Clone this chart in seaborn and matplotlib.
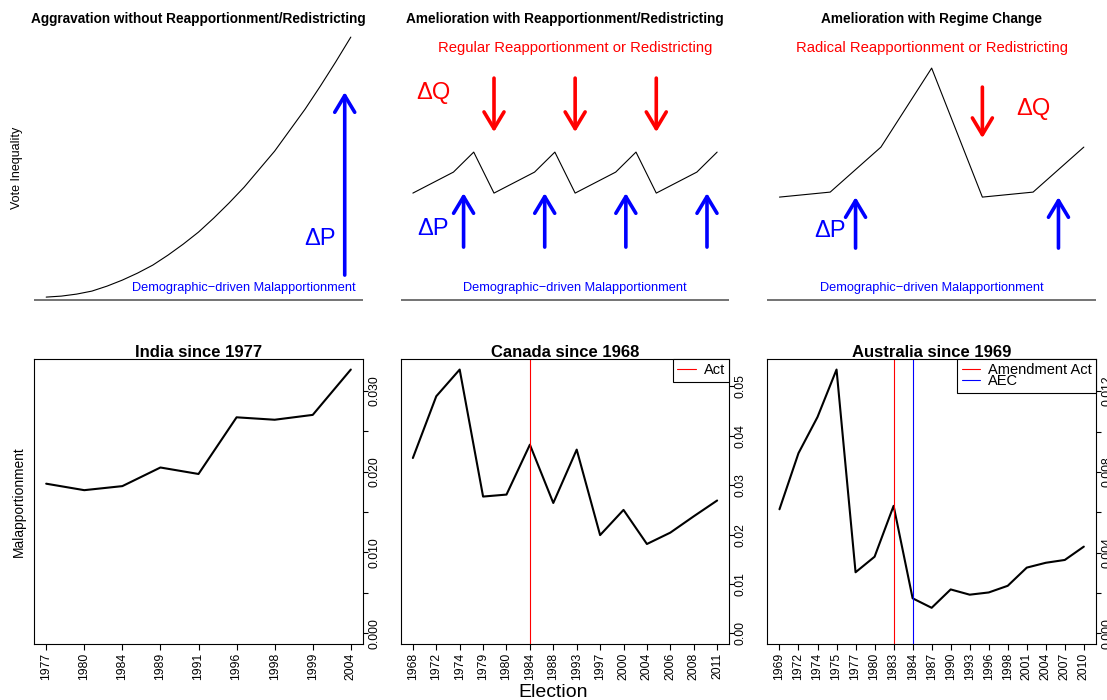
import numpy as np
import matplotlib
matplotlib.use("Agg")
import matplotlib.pyplot as plt
from matplotlib.patches import ArrowStyle
from matplotlib.ticker import MultipleLocator, FuncFormatter
import seaborn as sns

sns.set_style("white")
plt.rcParams["font.family"] = ["Liberation Sans", "DejaVu Sans"]
plt.rcParams.update({
    "text.color": "black",
    "axes.labelcolor": "black",
    "xtick.color": "black",
    "ytick.color": "black",
    "axes.edgecolor": "black",
})

# ---------------- conceptual panels (arbitrary units) ----------------
aggr_x = [0, 0.5, 1, 1.5, 2, 2.5, 3, 3.5, 4, 4.5, 5, 5.5, 6, 6.5, 7, 7.5, 8, 8.5, 9, 9.5, 10]
aggr_y = [1.0, 1.1, 1.3, 1.6, 2.1, 2.7, 3.4, 4.2, 5.2, 6.3, 7.5, 8.9, 10.4, 12.0,
          13.8, 15.6, 17.7, 19.8, 22.1, 24.5, 27.0]
aggr_p_x = [9.8]
aggr_p_span = (3.2, 21.5)

regular_x = [0, 2, 3, 4, 6, 7, 8, 10, 11, 12, 14, 15]
regular_y = [11.4, 13.5, 15.5, 11.4, 13.5, 15.5, 11.4, 13.5, 15.5, 11.4, 13.5, 15.5]
regular_q_x = [4, 8, 12]
regular_q_span = (22.9, 17.5)
regular_p_x = [2.5, 6.5, 10.5, 14.5]
regular_p_span = (6.0, 11.4)

regime_x = [0, 1, 2, 3, 4, 5, 6]
regime_y = [11.0, 11.5, 16.0, 23.9, 11.0, 11.5, 16.0]
regime_q_x = [4]
regime_q_span = (22.0, 16.9)
regime_p_x = [1.5, 5.5]
regime_p_span = (5.9, 11.0)

# ---------------- observed malapportionment ----------------
india_years = ["1977", "1980", "1984", "1989", "1991", "1996", "1998", "1999", "2004"]
india_vals = [0.0185, 0.0177, 0.0182, 0.0205, 0.0197, 0.0267, 0.0264, 0.0270, 0.0326]

canada_years = ["1968", "1972", "1974", "1979", "1980", "1984", "1988", "1993",
                "1997", "2000", "2004", "2006", "2008", "2011"]
canada_vals = [0.0355, 0.0480, 0.0534, 0.0277, 0.0281, 0.0382, 0.0264, 0.0372,
               0.0199, 0.0250, 0.0181, 0.0204, 0.0237, 0.0269]
canada_events = [("1984", "Act", "#ff0000")]

australia_years = ["1969", "1972", "1974", "1975", "1977", "1980", "1983", "1984",
                   "1987", "1990", "1993", "1996", "1998", "2001", "2004", "2007", "2010"]
australia_vals = [0.00615, 0.00893, 0.01072, 0.01307, 0.00303, 0.00380, 0.00632, 0.00174,
                  0.00127, 0.00218, 0.00192, 0.00203, 0.00236, 0.00326, 0.00350, 0.00364, 0.00430]
australia_events = [("1983", "Amendment Act", "#ff0000"), ("1984", "AEC", "#0000ff")]

RED = "#ff0000"
BLUE = "#0000ff"

W, H = 1107, 700
fig = plt.figure(figsize=(W / 100, H / 100), dpi=100)

col_left = [34, 400.7, 767.3]
col_width = [329, 328.6, 328.7]


def add_ax(px_left, px_width, px_top, px_bottom):
    return fig.add_axes([px_left / W, (H - px_bottom) / H,
                         px_width / W, (px_bottom - px_top) / H])


def pad_lim(lo, hi, frac=0.04):
    d = (hi - lo) * frac
    return lo - d, hi + d


def arrows(ax, xs, span, color):
    style = ArrowStyle("->", head_length=0.6, head_width=0.36)
    for x in xs:
        ax.annotate("", xy=(x, span[1]), xytext=(x, span[0]),
                    arrowprops=dict(arrowstyle=style, mutation_scale=20, lw=2.6,
                                    color=color, shrinkA=0, shrinkB=0))


def concept_panel(i, title, xs, ys):
    ax = add_ax(col_left[i], col_width[i], 27.1, 307.1)
    sns.lineplot(x=xs, y=ys, ax=ax, color="black", linewidth=0.8, sort=False)
    ax.set_xlim(*pad_lim(min(xs), max(xs)))
    ax.set_ylim(0, 28)
    ax.set_axis_off()
    ax.axhline(0.7, color="#4d4d4d", lw=1.1)
    ax.text(0.5, 1.0136, title, transform=ax.transAxes, ha="center", va="baseline",
            fontsize=9.8, fontweight="bold", color="black")
    return ax


# top-left: aggravation
ax = concept_panel(0, "Aggravation without Reapportionment/Redistricting", aggr_x, aggr_y)
arrows(ax, aggr_p_x, aggr_p_span, BLUE)
ax.text(9.0, 6.2, "\u0394P", color=BLUE, fontsize=17, ha="center", va="baseline")
ax.text(6.5, 1.64, "Demographic\u2212driven Malapportionment", color=BLUE,
        fontsize=9.2, ha="center", va="baseline")
ax.text(-0.0526, 0.496, "Vote Inequality", transform=ax.transAxes, rotation=90,
        ha="center", va="center", fontsize=9, color="black")

# top-middle: regular redistricting
ax = concept_panel(1, "Amelioration with Reapportionment/Redistricting", regular_x, regular_y)
arrows(ax, regular_q_x, regular_q_span, RED)
arrows(ax, regular_p_x, regular_p_span, BLUE)
ax.text(8.0, 25.5, "Regular Reapportionment or Redistricting", color=RED,
        fontsize=10.7, ha="center", va="baseline")
ax.text(1.0, 20.8, "\u0394Q", color=RED, fontsize=17, ha="center", va="baseline")
ax.text(1.0, 7.2, "\u0394P", color=BLUE, fontsize=17, ha="center", va="baseline")
ax.text(8.0, 1.64, "Demographic\u2212driven Malapportionment", color=BLUE,
        fontsize=9.2, ha="center", va="baseline")

# top-right: regime change
ax = concept_panel(2, "Amelioration with Regime Change", regime_x, regime_y)
arrows(ax, regime_q_x, regime_q_span, RED)
arrows(ax, regime_p_x, regime_p_span, BLUE)
ax.text(3.0, 25.5, "Radical Reapportionment or Redistricting", color=RED,
        fontsize=10.7, ha="center", va="baseline")
ax.text(5.0, 19.2, "\u0394Q", color=RED, fontsize=17, ha="center", va="baseline")
ax.text(1.0, 7.0, "\u0394P", color=BLUE, fontsize=17, ha="center", va="baseline")
ax.text(3.0, 1.64, "Demographic\u2212driven Malapportionment", color=BLUE,
        fontsize=9.2, ha="center", va="baseline")


def country_panel(i, title, years, vals, major, label_every, fmt, events=None):
    ax = add_ax(col_left[i], col_width[i], 359, 644)
    pos = np.arange(len(years))
    sns.lineplot(x=pos, y=vals, ax=ax, color="black", linewidth=1.5)
    ax.set_xlim(*pad_lim(0, len(years) - 1))
    ax.set_ylim(*pad_lim(0, max(vals)))
    ax.set_xticks(pos)
    ax.set_xticklabels(years, rotation=90)
    ax.yaxis.tick_right()
    ax.yaxis.set_major_locator(MultipleLocator(major))

    def lab(v, _):
        k = int(round(v / major))
        return fmt.format(v) if k % label_every == 0 and v > -major / 2 else ""

    ax.yaxis.set_major_formatter(FuncFormatter(lab))
    ax.tick_params(axis="x", bottom=True, direction="out", length=4.5, width=0.8,
                   pad=2, labelsize=8.8, colors="black")
    ax.tick_params(axis="y", right=True, left=False, direction="out", length=3.5,
                   width=0.8, pad=0.3, labelsize=8.8, colors="black")
    for t in ax.get_yticklabels():
        t.set_rotation(90)
        t.set_va("center")
        t.set_ha("left")
    for s in ax.spines.values():
        s.set_visible(True)
        s.set_color("black")
        s.set_linewidth(0.8)
    ax.set_xlabel("")
    ax.set_ylabel("")
    ax.text(0.5, 1.008, title, transform=ax.transAxes, ha="center", va="baseline",
            fontsize=12, fontweight="bold", color="black")
    if events:
        handles, labels = [], []
        for yr, name, color in events:
            h = ax.axvline(years.index(yr), color=color, lw=0.8)
            handles.append(h)
            labels.append(name)
        leg = ax.legend(handles, labels, loc="upper right", borderaxespad=0,
                        frameon=True, fancybox=False, edgecolor="black", framealpha=1,
                        fontsize=10.5, handlelength=1.25, handletextpad=0.55,
                        borderpad=0.3, labelspacing=-0.2)
        leg.get_frame().set_linewidth(0.8)
        for t in leg.get_texts():
            t.set_color("black")
    return ax


ax = country_panel(0, "India since 1977", india_years, india_vals, 0.005, 2, "{:.3f}")
ax.text(-0.0465, 0.5, "Malapportionment", transform=ax.transAxes, rotation=90,
        ha="center", va="center", fontsize=9.9, color="black")
country_panel(1, "Canada since 1968", canada_years, canada_vals, 0.01, 1, "{:.2f}",
              canada_events)
country_panel(2, "Australia since 1969", australia_years, australia_vals, 0.002, 2,
              "{:.3f}", australia_events)

fig.text(0.5, 0.0047, "Election", ha="center", va="baseline", fontsize=14, color="black")

fig.savefig("out.png", dpi=100)
